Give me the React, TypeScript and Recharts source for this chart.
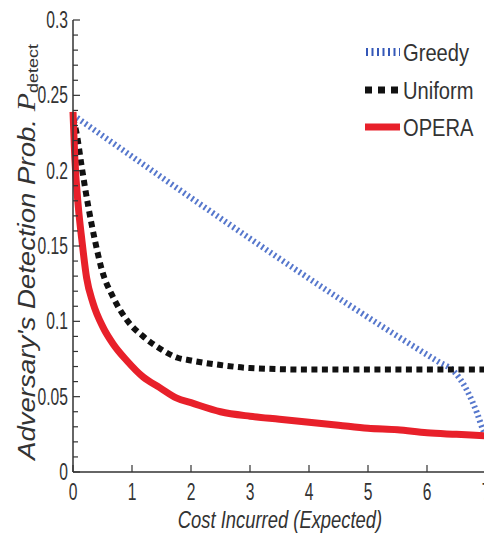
import React from 'react';
import { LineChart, Line, XAxis, YAxis } from 'recharts';

// values
const greedyCost = [0, 6.2, 6.45, 6.68, 6.85, 6.95, 7];
const greedyProb = [0.237, 0.073, 0.067, 0.054, 0.039, 0.028, 0.024];

const uniformCost = [0, 0.06, 0.15, 0.26, 0.37, 0.49, 0.68, 0.91, 1.19, 1.47, 1.76, 2, 2.5, 3, 4, 5, 6, 7];
const uniformProb = [0.235, 0.225, 0.202, 0.176, 0.154, 0.134, 0.116, 0.101, 0.09, 0.082, 0.076, 0.074, 0.071, 0.069, 0.068, 0.068, 0.068, 0.068];

const operaCost = [0, 0.03, 0.09, 0.15, 0.23, 0.34, 0.51, 0.68, 0.91, 1.19, 1.47, 1.76, 2, 2.5, 3, 3.5, 4, 4.5, 5, 5.5, 6, 6.5, 7];
const operaProb = [0.239, 0.209, 0.176, 0.154, 0.129, 0.112, 0.096, 0.085, 0.074, 0.063, 0.056, 0.049, 0.046, 0.04, 0.037, 0.035, 0.033, 0.031, 0.029, 0.028, 0.026, 0.025, 0.024];

const xTicks = [0, 1, 2, 3, 4, 5, 6, 7];
const xTickLabels = ['0', '1', '2', '3', '4', '5', '6', '7'];
const yTickLabels = ['0', '0.05', '0.1', '0.15', '0.2', '0.25', '0.3'];
// minor ticks every 0.01, labelled every 0.05
const yTicks = Array.from({ length: 31 }, (_, i) => i / 100);

const seriesNames = ['Greedy', 'Uniform', 'OPERA'];

const FONT = '"Liberation Sans", Arial, sans-serif';
const INK = '#333';

const zip = (xs: number[], ys: number[]) => xs.map((x, i) => ({ cost: x, p: ys[i] }));
const greedyData = zip(greedyCost, greedyProb);
const uniformData = zip(uniformCost, uniformProb);
const operaData = zip(operaCost, operaProb);

// the source figure was squashed sideways, so text is scaled along its own direction
const NText = ({ x, y, sx, size, anchor = 'start', italic = false, rotate = false, children }: any) => (
  <text
    transform={`translate(${x} ${y})${rotate ? ' rotate(-90)' : ''} scale(${sx} 1)`}
    textAnchor={anchor}
    fontFamily={FONT}
    fontSize={size}
    fontStyle={italic ? 'italic' : 'normal'}
    fill={INK}
  >
    {children}
  </text>
);

const LeftTick = (props: any) => {
  const { x, y, payload } = props;
  const k = Math.round(payload.value * 100);
  const major = k % 5 === 0;
  return (
    <g>
      <line x1={x} x2={x + (major ? 7 : 5)} y1={y} y2={y} stroke={INK} strokeWidth={1.2} />
      {major && (
        <NText x={x - 5} y={y + 8} sx={0.68} size={23} anchor="end">
          {yTickLabels[k / 5]}
        </NText>
      )}
    </g>
  );
};

const RightTick = (props: any) => {
  const { x, y, payload } = props;
  const major = Math.round(payload.value * 100) % 5 === 0;
  return <line x1={x} x2={x - (major ? 7 : 5)} y1={y} y2={y} stroke={INK} strokeWidth={1.2} />;
};

const BottomTick = (props: any) => {
  const { x, y, payload } = props;
  return (
    <g>
      <line x1={x} x2={x} y1={y} y2={y - 7} stroke={INK} strokeWidth={1.2} />
      <NText x={x} y={y + 28} sx={0.68} size={23} anchor="middle">
        {xTickLabels[xTicks.indexOf(payload.value)]}
      </NText>
    </g>
  );
};

const TopTick = (props: any) => {
  const { x, y } = props;
  return <line x1={x} x2={x} y1={y} y2={y + 7} stroke={INK} strokeWidth={1.2} />;
};

const XTitle = () => (
  <NText x={280} y={528} sx={0.8} size={23} anchor="middle" italic>
    Cost Incurred (Expected)
  </NText>
);

const YTitle = () => (
  <NText x={35} y={252} sx={1.2} size={23} anchor="middle" rotate>
    <tspan fontStyle="italic">Adversary's Detection Prob. </tspan>
    <tspan fontFamily='"Liberation Serif", serif' fontStyle="italic" fontSize={25}>P</tspan>
    <tspan fontSize={15} dy={3}>detect</tspan>
  </NText>
);

const LegendSample = ({ i, y }: { i: number; y: number }) => {
  if (i === 0) return <line x1={366} x2={400} y1={y} y2={y} stroke="#3558b8" strokeWidth={8} strokeDasharray="2 3.5" />;
  if (i === 1) return <line x1={365} x2={400} y1={y} y2={y} stroke="#111" strokeWidth={7} strokeDasharray="7 6" />;
  return <line x1={365} x2={400} y1={y} y2={y} stroke="#e8202a" strokeWidth={7} />;
};

const legendRows = [52, 90, 127];

const App = () => (
  <div style={{ position: 'absolute', left: 0, top: 0, width: 484, height: 534, overflow: 'hidden', background: '#fff' }}>
    <LineChart width={500} height={534} margin={{ top: 20, right: 14, bottom: 0, left: 0 }}>
      <XAxis
        dataKey="cost"
        type="number"
        domain={[0, 7]}
        ticks={xTicks}
        tickSize={0}
        tickMargin={0}
        tickLine={false}
        tick={<BottomTick />}
        height={62}
        interval={0}
        axisLine={{ stroke: INK, strokeWidth: 1.5 }}
        label={<XTitle />}
      />
      <XAxis
        xAxisId="top"
        orientation="top"
        dataKey="cost"
        type="number"
        domain={[0, 7]}
        ticks={xTicks}
        tickSize={0}
        tickMargin={0}
        tickLine={false}
        tick={<TopTick />}
        height={0}
        interval={0}
        axisLine={{ stroke: INK, strokeWidth: 1.5 }}
      />
      <YAxis
        type="number"
        domain={[0, 0.3]}
        ticks={yTicks}
        tickSize={0}
        tickMargin={0}
        tickLine={false}
        tick={<LeftTick />}
        width={73}
        interval={0}
        axisLine={{ stroke: INK, strokeWidth: 1.5 }}
        label={<YTitle />}
      />
      <YAxis
        yAxisId="right"
        orientation="right"
        type="number"
        domain={[0, 0.3]}
        ticks={yTicks}
        tickSize={0}
        tickMargin={0}
        tickLine={false}
        tick={<RightTick />}
        width={0}
        interval={0}
        axisLine={{ stroke: INK, strokeWidth: 1.5 }}
      />
      <Line data={greedyData} dataKey="p" name={seriesNames[0]} type="monotone" stroke="#5677cc" strokeWidth={6} strokeDasharray="2 3" dot={false} isAnimationActive={false} />
      <Line data={uniformData} dataKey="p" name={seriesNames[1]} type="monotone" stroke="#111" strokeWidth={6} strokeDasharray="6 4.5" dot={false} isAnimationActive={false} />
      <Line data={operaData} dataKey="p" name={seriesNames[2]} type="monotone" stroke="#e8202a" strokeWidth={7} dot={false} isAnimationActive={false} />
    </LineChart>
    <svg width={484} height={160} style={{ position: 'absolute', left: 0, top: 0 }}>
      {seriesNames.map((name, i) => (
        <g key={name}>
          <LegendSample i={i} y={legendRows[i]} />
          <NText x={403} y={legendRows[i] + 8.5} sx={0.84} size={24}>
            {name}
          </NText>
        </g>
      ))}
    </svg>
  </div>
);

export default App;
